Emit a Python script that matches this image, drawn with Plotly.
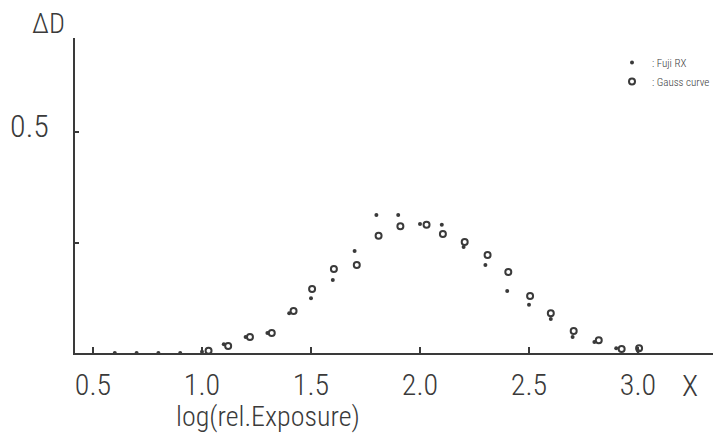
import plotly.graph_objects as go

# ---- data ----
fuji_x = [0.6, 0.7, 0.8, 0.9, 1.0, 1.1, 1.2, 1.3, 1.4, 1.5, 1.6, 1.7, 1.8, 1.9,
          2.0, 2.1, 2.2, 2.3, 2.4, 2.5, 2.6, 2.7, 2.8, 2.9, 3.0]
fuji_y = [0.0, 0.0, 0.0, 0.0, 0.003, 0.020, 0.036, 0.045, 0.090, 0.124, 0.165,
          0.231, 0.312, 0.312, 0.292, 0.290, 0.240, 0.199, 0.140, 0.109, 0.077,
          0.036, 0.025, 0.011, 0.005]

gauss_x = [1.03, 1.12, 1.22, 1.32, 1.42, 1.505, 1.605, 1.71, 1.81, 1.91, 2.03,
           2.105, 2.205, 2.31, 2.405, 2.505, 2.60, 2.705, 2.82, 2.925, 3.005]
gauss_y = [0.005, 0.016, 0.036, 0.045, 0.095, 0.145, 0.190, 0.199, 0.265, 0.287,
           0.290, 0.269, 0.251, 0.222, 0.183, 0.129, 0.090, 0.050, 0.029, 0.009,
           0.011]

x_ticks = [0.5, 1.0, 1.5, 2.0, 2.5, 3.0]
x_tick_labels = ["0.5", "1.0", "1.5", "2.0", "2.5", "3.0"]
y_ticks = [0.25, 0.5]
y_tick_labels = ["", "0.5"]

INK = "#3a3a3a"
FONT = "Liberation Sans Narrow, Roboto Condensed, Liberation Sans, sans-serif"

# the page body keeps the browser's default 8px margin, so the figure is drawn 8px
# smaller and all pixel positions below are in figure pixels (= page pixels - 8)
W, H = 713, 439
L, T, B = 67, 30, 94
PW, PH = W - L, H - T - B  # 646 x 315

fig = go.Figure()
fig.add_trace(go.Scatter(
    x=fuji_x, y=fuji_y, mode="markers", name=": Fuji RX",
    marker=dict(symbol="circle", size=4, color=INK),
    cliponaxis=False,
))
fig.add_trace(go.Scatter(
    x=gauss_x, y=gauss_y, mode="markers", name=": Gauss curve",
    marker=dict(symbol="circle-open", size=6, color=INK, line=dict(width=2, color=INK)),
    cliponaxis=False,
))

fig.update_layout(
    width=W, height=H,
    margin=dict(l=L, r=0, t=T, b=B, autoexpand=False),
    paper_bgcolor="white", plot_bgcolor="white",
    font=dict(family=FONT, color=INK, size=30, weight=300),
    showlegend=True,
    legend=dict(x=(604 - L) / PW, y=(345 - 40) / PH, xanchor="left", yanchor="top",
                font=dict(size=11, color=INK, family=FONT),
                bgcolor="rgba(0,0,0,0)", itemwidth=30, tracegroupgap=0),
    xaxis=dict(
        range=[0.5 - 18 / 218, 0.5 + (721 - 93) / 218],
        automargin=False,
        showgrid=False, zeroline=False, showline=True, linecolor=INK, linewidth=1.5,
        tickmode="array", tickvals=x_ticks, ticktext=x_tick_labels,
        ticks="inside", ticklen=6, tickwidth=1.5, tickcolor=INK,
        ticklabelstandoff=4,
        tickfont=dict(size=30, family=FONT, color=INK, weight=300),
    ),
    yaxis=dict(
        range=[0, (353 - 38) / 442],
        automargin=False,
        showgrid=False, zeroline=False, showline=True, linecolor=INK, linewidth=1.5,
        tickmode="array", tickvals=y_ticks, ticktext=y_tick_labels,
        ticks="inside", ticklen=4, tickwidth=1.5, tickcolor=INK,
        ticklabelstandoff=18, ticklabelshift=-6,
        tickfont=dict(size=32, family=FONT, color=INK, weight=300),
    ),
)

fig.add_annotation(text="ΔD", xref="paper", yref="paper", x=(40 - L) / PW,
                   y=(345 - 16) / PH,
                   xanchor="center", yanchor="middle", showarrow=False,
                   font=dict(size=28, family=FONT, color=INK, weight=300))
fig.add_annotation(text="X", xref="paper", yref="paper", x=(682 - L) / PW,
                   y=-(358 - 345) / PH,
                   xanchor="center", yanchor="top", showarrow=False,
                   font=dict(size=30, family=FONT, color=INK, weight=300))
fig.add_annotation(text="log(rel.Exposure)", xref="paper", yref="paper",
                   x=(260 - L) / PW, y=-(390 - 345) / PH,
                   xanchor="center", yanchor="top", showarrow=False,
                   font=dict(size=28, family=FONT, color=INK, weight=300))

fig.write_html("out.html")
